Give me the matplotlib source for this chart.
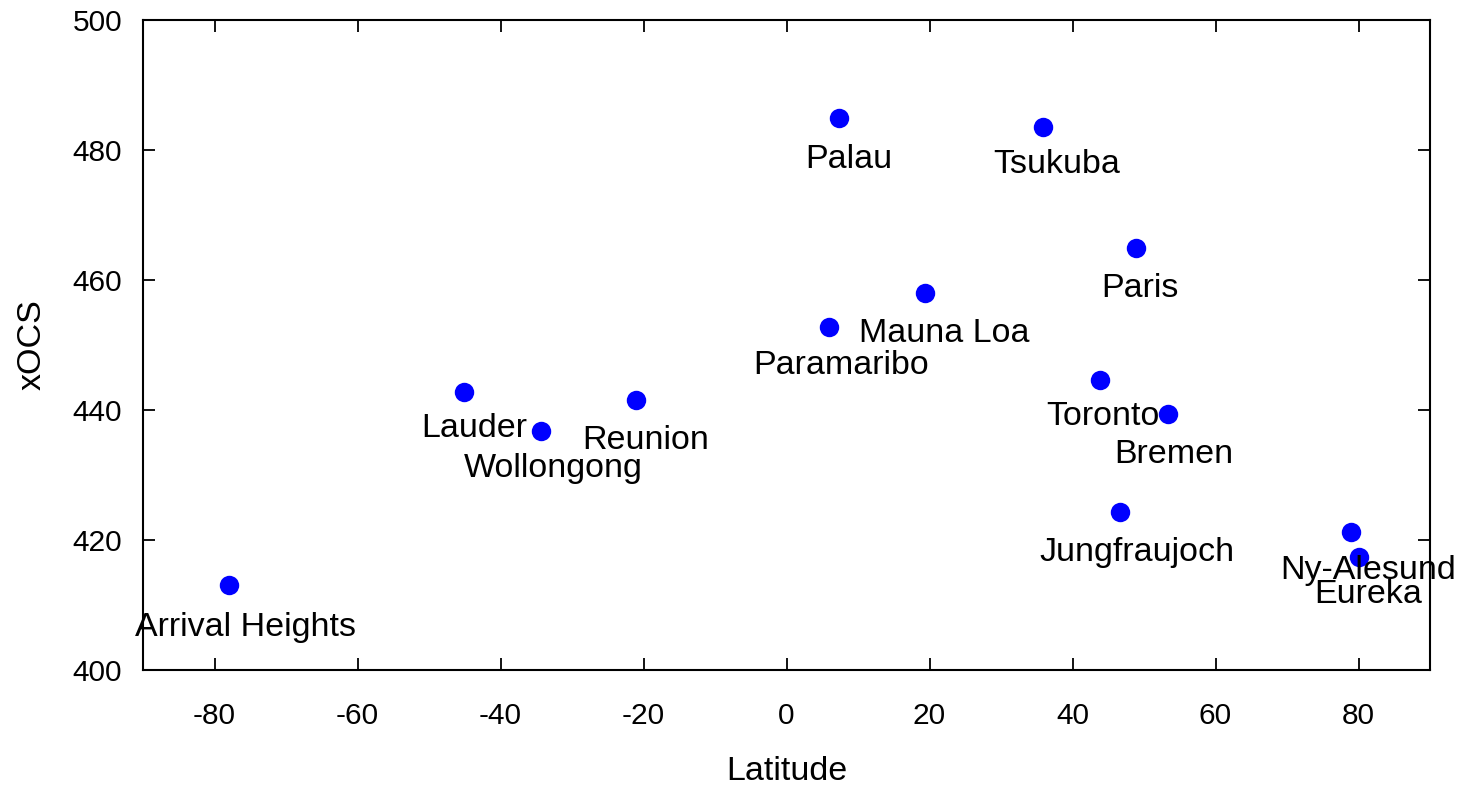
import matplotlib
matplotlib.use("Agg")
import matplotlib.pyplot as plt

# station coordinates (latitude) and xOCS values
stations = ["Arrival Heights", "Lauder", "Wollongong", "Reunion", "Paramaribo",
            "Palau", "Mauna Loa", "Tsukuba", "Toronto", "Jungfraujoch",
            "Paris", "Bremen", "Ny-Alesund", "Eureka"]
latitude = [-78.0, -45.1, -34.4, -21.1, 5.9, 7.3, 19.4, 35.9, 43.9, 46.7,
            48.9, 53.4, 78.9, 80.1]
xocs = [413.1, 442.8, 436.8, 441.5, 452.8, 484.9, 458.0, 483.5, 444.6,
        424.3, 464.9, 439.4, 421.2, 417.4]

# label placement relative to each point (pixels)
label_dx = [17, 10, 13, 10, 12, 10, 19, 14, 3, 17, 4, 6, 17, 9]
label_dy = [-43, -37, -38, -40, -39, -41, -40, -37, -36, -40, -40, -41, -38, -38]

xticks = [-80, -60, -40, -20, 0, 20, 40, 60, 80]
yticks = [400, 420, 440, 460, 480, 500]

plt.rcParams['font.family'] = ['Liberation Sans', 'DejaVu Sans']
plt.rcParams['axes.unicode_minus'] = False

fig = plt.figure(figsize=(14.62, 7.85), dpi=100)
ax = fig.add_axes([143 / 1462, 115 / 785, 1287 / 1462, 650 / 785])

ax.plot(latitude, xocs, linestyle='none', marker='o', ms=14,
        color='#0000ff', markeredgewidth=0)

for name, x, y, dx, dy in zip(stations, latitude, xocs, label_dx, label_dy):
    ax.annotate(name, (x, y), xytext=(dx, dy), textcoords='offset pixels',
                ha='center', va='center', fontsize=24.5, color='black')

ax.set_xlim(-90, 90)
ax.set_ylim(400, 500)
ax.set_xticks(xticks)
ax.set_yticks(yticks)
ax.tick_params(direction='in', length=8.5, width=1.3, top=True, right=True,
               labelsize=21.5, colors='black')
ax.tick_params(axis='x', pad=23)
ax.tick_params(axis='y', pad=15)
for s in ax.spines.values():
    s.set_linewidth(1.5)

ax.set_xlabel("Latitude", fontsize=24.5, labelpad=19)
ax.set_ylabel("xOCS", fontsize=24.5, labelpad=18)

fig.savefig("out.png", dpi=100)
